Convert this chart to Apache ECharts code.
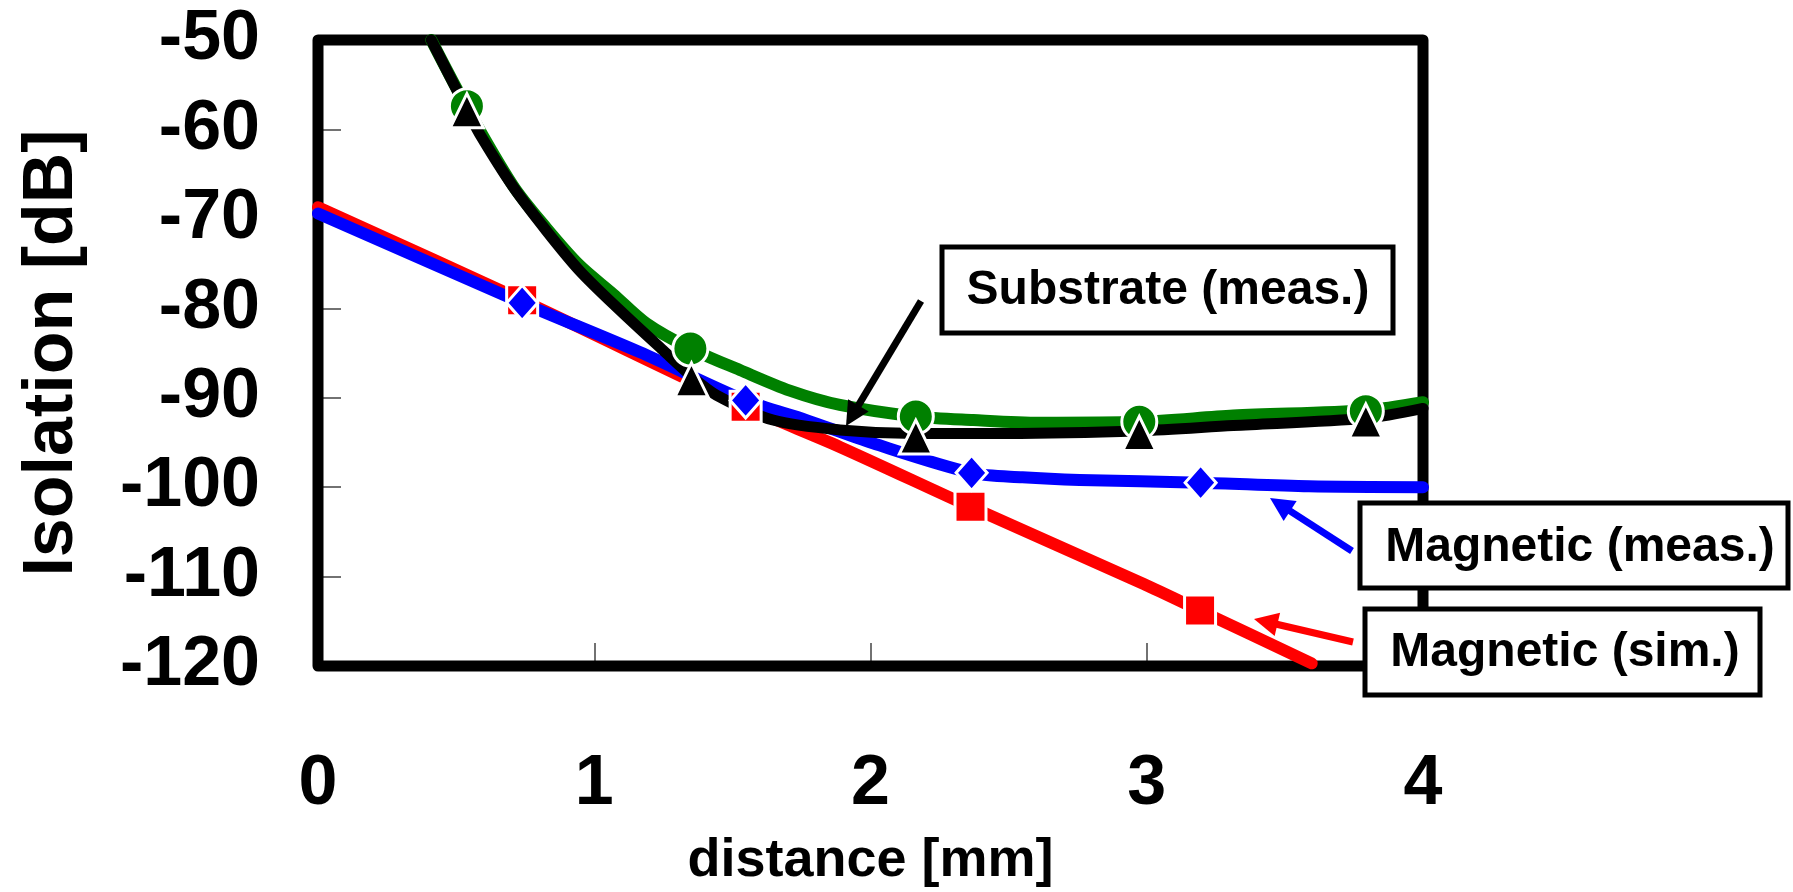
<!DOCTYPE html>
<html>
<head>
<meta charset="utf-8">
<title>Isolation vs distance</title>
<script src="https://cdn.jsdelivr.net/npm/echarts@6/dist/echarts.min.js"></script>
<style>
  html, body { margin: 0; padding: 0; background: #fff; }
  #chart { width: 1793px; height: 892px; }
</style>
</head>
<body>
<div id="chart"></div>
<script>
// axis ranges [min, max, step]
const xRange = [0, 4, 1];
const yRange = [-120, -50, 10];

// curves: [distance mm, isolation dB]
const magSimCurve = [[0, -68.7], [0.739, -79.1], [1.548, -91.0], [1.889, -95.5], [2.362, -102.2],
  [2.987, -110.8], [3.193, -113.8], [3.597, -119.7]];
const magMeasCurve = [[0, -69.4], [0.739, -79.4], [1.164, -84.9], [1.548, -90.3], [1.768, -92.5],
  [2.009, -95.1], [2.366, -98.4], [2.55, -98.9], [2.757, -99.2], [3.195, -99.5], [3.587, -99.9], [4.0, -100.0]];
const greenCurve = [[0.41, -50], [0.54, -57.6], [0.706, -66.3], [0.826, -71.0], [0.947, -75.2],
  [1.068, -78.4], [1.189, -81.7], [1.348, -84.5], [1.527, -86.9], [1.708, -89.2], [1.889, -90.8],
  [2.164, -92.1], [2.372, -92.5], [2.613, -92.8], [2.973, -92.7], [3.313, -92.0], [3.793, -91.4], [4.0, -90.5]];
const substrateMeasCurve = [[0.41, -50], [0.539, -57.8], [0.585, -60.5], [0.706, -66.4], [0.826, -71.3],
  [0.947, -75.8], [1.092, -80.2], [1.249, -84.7], [1.352, -87.6], [1.442, -89.7], [1.647, -92.5],
  [1.889, -93.6], [2.164, -94.0], [2.49, -94.0], [2.973, -93.7], [3.313, -93.1], [3.793, -92.3], [4.0, -91.2]];

// markers
const magSimMarks = [[0.739, -79.1], [1.548, -91.0], [2.362, -102.2], [3.193, -113.8]];
const magMeasMarks = [[0.739, -79.4], [1.548, -90.3], [2.366, -98.4], [3.195, -99.5]];
const greenMarks = [[0.539, -57.4], [1.348, -84.5], [2.164, -92.1], [2.973, -92.7], [3.793, -91.5]];
const substrateMarks = [[0.539, -57.9], [1.352, -88.0], [2.164, -94.4], [2.973, -94.0], [3.793, -92.6]];

const labelTexts = ['Substrate (meas.)', 'Magnetic (meas.)', 'Magnetic (sim.)'];

const FONT = '"Liberation Sans", Arial, Helvetica, sans-serif';

// plot frame + annotation layout (pixels)
const plot = {left: 318, top: 40, width: 1105, height: 626};
const boxes = [
  {x: 942, y: 247, w: 451, h: 86, tx: 1168, ty: 291},
  {x: 1360, y: 503, w: 428, h: 85, tx: 1580, ty: 548},
  {x: 1365, y: 609, w: 395, h: 86, tx: 1565, ty: 653}
];
const arrows = [
  {from: [921, 301], to: [846, 426], color: '#000'},
  {from: [1352, 551], to: [1270, 498], color: '#0000ff'},
  {from: [1353, 642], to: [1254, 619], color: '#ff0000'}
];

function arrowParts(a) {
  const [x1, y1] = a.from, [x2, y2] = a.to;
  const ang = Math.atan2(y2 - y1, x2 - x1);
  const len = 24, half = 12;
  const bx = x2 - len * Math.cos(ang), by = y2 - len * Math.sin(ang);
  const nx = -Math.sin(ang), ny = Math.cos(ang);
  return [
    {type: 'line', z: 20, shape: {x1: x1, y1: y1, x2: bx + 4 * Math.cos(ang), y2: by + 4 * Math.sin(ang)},
      style: {stroke: a.color, lineWidth: 7}},
    {type: 'polygon', z: 20, shape: {points: [[x2, y2], [bx + nx * half, by + ny * half], [bx - nx * half, by - ny * half]]},
      style: {fill: a.color}}
  ];
}

function boxParts(b, i) {
  return [
    {type: 'rect', z: 30, shape: {x: b.x, y: b.y, width: b.w, height: b.h},
      style: {fill: '#fff', stroke: '#000', lineWidth: 5}},
    {type: 'text', z: 31, x: b.tx, y: b.ty,
      style: {text: labelTexts[i], fill: '#000', font: 'bold 48px ' + FONT, align: 'center', verticalAlign: 'middle'}}
  ];
}

function lineSeries(data, color, width) {
  return {
    type: 'line', data: data, smooth: 0.3, showSymbol: false, clip: false, z: 3,
    lineStyle: {color: color, width: width, cap: 'round', join: 'round'}, silent: true
  };
}
function markSeries(data, symbol, size, color) {
  return {
    type: 'scatter', data: data, symbol: symbol, symbolSize: size, clip: false, silent: true, z: 4,
    itemStyle: {color: color, borderColor: '#fff', borderWidth: 3, opacity: 1}
  };
}

const chart = echarts.init(document.getElementById('chart'), null, {renderer: 'canvas'});

const option = {
  animation: false,
  backgroundColor: '#fff',
  grid: {
    left: plot.left, top: plot.top, width: plot.width, height: plot.height,
    show: false, containLabel: false, outerBoundsMode: 'none'
  },
  xAxis: {
    type: 'value', min: xRange[0], max: xRange[1], interval: xRange[2],
    name: 'distance [mm]', nameLocation: 'middle', nameGap: 168,
    nameTextStyle: {fontFamily: FONT, fontWeight: 'bold', fontSize: 54, color: '#000'},
    axisLine: {show: false},
    axisTick: {show: true, inside: true, length: 23, lineStyle: {color: '#444', width: 1.5}},
    axisLabel: {margin: 84, fontFamily: FONT, fontWeight: 'bold', fontSize: 70, color: '#000'},
    splitLine: {show: false}
  },
  yAxis: {
    type: 'value', min: yRange[0], max: yRange[1], interval: yRange[2],
    name: 'Isolation [dB]', nameLocation: 'middle', nameRotate: 90, nameGap: 230,
    nameTextStyle: {fontFamily: FONT, fontWeight: 'bold', fontSize: 70, color: '#000'},
    axisLine: {show: false},
    axisTick: {show: true, inside: true, length: 23, lineStyle: {color: '#444', width: 1.5}},
    axisLabel: {margin: 58, fontFamily: FONT, fontWeight: 'bold', fontSize: 70, color: '#000'},
    splitLine: {show: false}
  },
  series: [
    lineSeries(magSimCurve, '#ff0000', 12),
    lineSeries(magMeasCurve, '#0000ff', 12),
    lineSeries(greenCurve, '#008000', 12),
    lineSeries(substrateMeasCurve, '#000000', 11),
    markSeries(magSimMarks, 'rect', 31, '#ff0000'),
    markSeries(magMeasMarks, 'diamond', [31, 35], '#0000ff'),
    markSeries(greenMarks, 'circle', 35, '#008000'),
    markSeries(substrateMarks, 'triangle', [33, 34], '#000000')
  ],
  graphic: [].concat(
    [{type: 'rect', z: 1, silent: true,
      shape: {x: plot.left, y: plot.top, width: plot.width, height: plot.height},
      style: {fill: 'none', stroke: '#000', lineWidth: 11, lineJoin: 'round'}}],
    ...arrows.map(arrowParts),
    ...boxes.map(boxParts)
  )
};

chart.setOption(option);
</script>
</body>
</html>
